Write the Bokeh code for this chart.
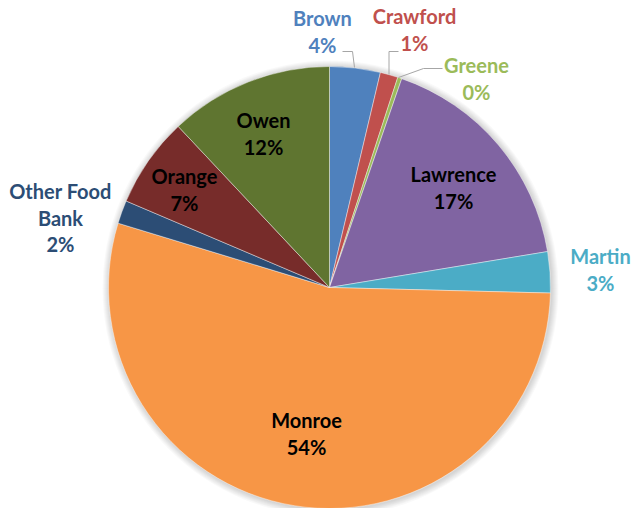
import numpy as np
from bokeh.plotting import figure
from bokeh.models import Range1d
from bokeh.embed import file_html
from bokeh.resources import INLINE
from bokeh.core.properties import value

# ---- data ----
categories = ["Brown", "Crawford", "Greene", "Lawrence", "Martin",
              "Monroe", "Other Food Bank", "Orange", "Owen"]
shares = [3.7, 1.3, 0.3, 17.1, 3.0, 54.3, 1.7, 6.6, 12.0]

# ---- style ----
colors = ["#4F81BD", "#C0504D", "#9BBB59", "#8064A2", "#4BACC6",
          "#F79646", "#2C4D75", "#772C2A", "#5F7530"]
label_colors = ["#4F81BD", "#C0504D", "#9BBB59", "#000000", "#4BACC6",
                "#000000", "#2C4D75", "#000000", "#000000"]
label_lines = {"Other Food Bank": ["Other Food", "Bank"]}
# label layout in screen px: (center x, first baseline y)
label_pos = [(322, 25), (414, 23), (476, 72), (453, 181), (600, 263),
             (306, 427), (60, 198), (184, 183), (263, 127)]
line_gap = 26.5
text_shift = -7.5

W, H = 632, 508


def fx(sx):
    return sx


def fy(sy):
    return H - sy


cx, cy, R = fx(329), fy(287), 221

p = figure(width=W, height=H, x_range=Range1d(0, W), y_range=Range1d(0, H),
           output_backend="svg", toolbar_location=None,
           x_axis_type=None, y_axis_type=None, min_border=0)
p.grid.visible = False
p.outline_line_color = None
p.background_fill_color = "white"

# soft shadow
for k in range(1, 8):
    p.circle(x=[cx + 1], y=[cy - 1], radius=R + k, fill_color="black",
             fill_alpha=0.022, line_color=None)

vals = np.array(shares, dtype=float)
frac = vals / vals.sum()
cum_end = np.cumsum(frac)
cum_start = cum_end - frac
start_angle = np.pi / 2 - 2 * np.pi * cum_end
end_angle = np.pi / 2 - 2 * np.pi * cum_start

p.wedge(x=cx, y=cy, radius=R, start_angle=list(start_angle),
        end_angle=list(end_angle), fill_color=colors,
        line_color="white", line_width=0.6, line_alpha=0.7)

# leader lines
leaders = [
    [(342, 51), (352, 51), (354, 67)],
    [(398, 51), (388.5, 51), (388.5, 74)],
    [(442, 68), (423, 68), (398, 77)],
]
for pts in leaders:
    p.line(x=[fx(a) for a, b in pts], y=[fy(b) for a, b in pts],
           line_color="#A6A6A6", line_width=1)

tx, ty, tt, tc = [], [], [], []
for i, name in enumerate(categories):
    pct = f"{int(round(frac[i] * 100))}%"
    lines = label_lines.get(name, [name]) + [pct]
    x0, y0 = label_pos[i]
    for j, ln in enumerate(lines):
        tx.append(fx(x0))
        ty.append(fy(y0 + text_shift + j * line_gap))
        tt.append(ln)
        tc.append(label_colors[i])

p.text(x=tx, y=ty, text=tt, text_color=tc, text_align="center",
       text_baseline="alphabetic", text_font=value("Lato"),
       text_font_style="bold", text_font_size="20px")

open("out.html", "w").write(file_html(p, INLINE))
